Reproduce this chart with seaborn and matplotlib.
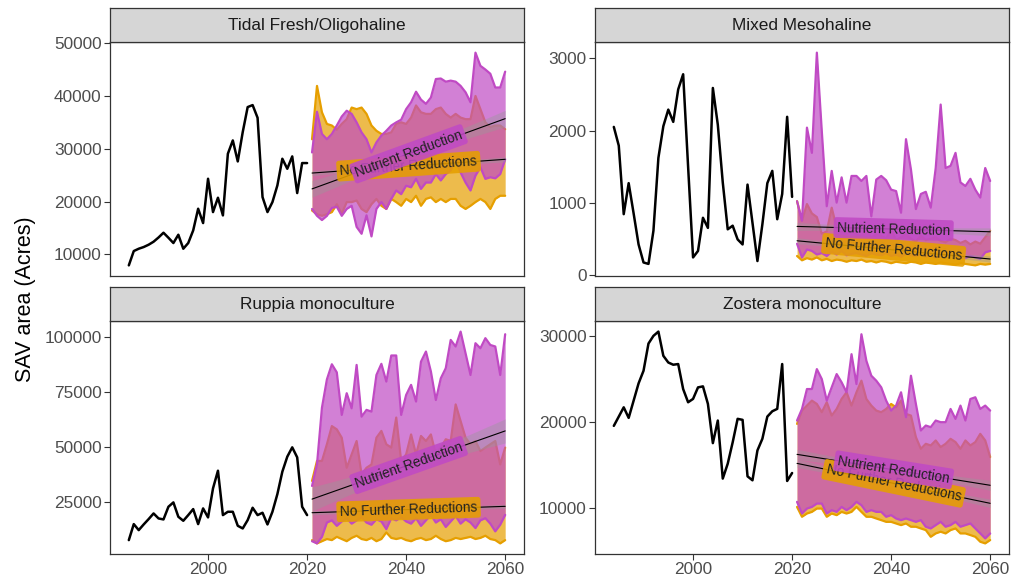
import numpy as np
import pandas as pd
import matplotlib
matplotlib.use("Agg")
import matplotlib.pyplot as plt
import seaborn as sns

# ---------------- data ----------------
years_hist = list(range(1984, 2021))
years_proj = list(range(2021, 2061))

panels = ["Tidal Fresh/Oligohaline", "Mixed Mesohaline",
          "Ruppia monoculture", "Zostera monoculture"]
scenarios = ["No Further Reductions", "Nutrient Reduction"]

# observed SAV area
tf_hist = [7920, 10630, 11070, 11390, 11830, 12400, 13200, 14100, 13150, 12150, 13720, 11070,
           12150, 14540, 18640, 15930, 24320, 18010, 20730, 17380, 29050, 31580, 27600, 33150,
           37890, 38270, 35870, 20850, 18010, 19900, 23060, 28110, 26210, 28550, 21610, 27290, 27290]
mm_hist = [2050, 1790, 840, 1270, 850, 420, 170, 150, 610, 1620, 2060, 2290, 2120, 2570, 2780,
           1500, 240, 330, 790, 650, 2590, 2080, 1280, 630, 680, 490, 420, 1250, 720, 190, 700,
           1270, 1440, 770, 1120, 2190, 1080]
rm_hist = [7500, 14800, 12060, 14650, 17090, 19670, 17390, 16930, 22720, 24700, 18150, 16320,
           18910, 21650, 14800, 21960, 17850, 31090, 39150, 18910, 20430, 20430, 14040, 12820,
           16630, 22260, 18910, 19980, 14650, 20430, 28500, 38700, 45550, 49810, 45240, 22720, 18910]
zm_hist = [19520, 20600, 21680, 20450, 22460, 24470, 25940, 29110, 30000, 30500, 27680, 26900,
           26640, 26720, 23810, 22270, 22660, 24000, 24120, 22080, 17510, 20140, 13380, 15110,
           17600, 20340, 20220, 13640, 13180, 16660, 18020, 20600, 21220, 21500, 26720, 13100, 14030]

# projected ranges, Nutrient Reduction (nr) and No Further Reductions (nfr)
tf_nr_hi = [29300, 37000, 32800, 31800, 32800, 34400, 36100, 37200, 36600, 35000, 33100, 31800,
            29300, 31200, 32500, 33400, 34400, 35000, 35500, 37500, 38800, 40800, 39300, 38500,
            39700, 43200, 43300, 42700, 42900, 42700, 41900, 40700, 38800, 48200, 45700, 45000,
            44200, 41600, 41600, 44600]
tf_nr_lo = [18600, 17300, 16500, 17300, 18800, 19000, 17300, 18600, 19200, 15200, 13900, 17400,
            13400, 18600, 19900, 18600, 20500, 22100, 21400, 23000, 22700, 24300, 22400, 23600,
            23600, 25200, 24000, 25200, 25900, 28000, 25500, 23600, 22100, 24900, 26500, 24300,
            24600, 24400, 25200, 28000]
tf_nfr_hi = [31800, 41900, 36900, 34700, 34400, 33600, 34700, 35600, 37800, 37500, 37800, 36600,
             34400, 33400, 32800, 32800, 33100, 34700, 35000, 34700, 35900, 38200, 36900, 36600,
             36600, 37500, 37800, 36600, 35900, 36600, 35900, 35600, 35600, 40000, 37500, 35000,
             34100, 34400, 34400, 33700]
tf_nfr_lo = [18300, 17600, 17300, 17600, 18000, 19500, 17700, 19900, 19900, 20200, 18600, 18000,
             19500, 20500, 19200, 18600, 20500, 19900, 19200, 20500, 19900, 21100, 19200, 20500,
             20800, 19900, 20500, 19900, 20500, 20500, 19200, 18600, 19200, 19900, 20500, 19900,
             18600, 20500, 21100, 21100]

mm_nr_hi = [1020, 750, 2040, 1690, 3080, 1990, 950, 1440, 1000, 1350, 1000, 1370, 1370, 1300,
            1370, 810, 1320, 1370, 1310, 1180, 1160, 860, 1880, 1460, 910, 1120, 1150, 930, 1480,
            2360, 1480, 1510, 1690, 1280, 1230, 1330, 1180, 1070, 1480, 1300]
mm_nr_lo = [430, 240, 350, 330, 280, 300, 260, 320, 280, 330, 270, 290, 300, 280, 260, 300, 280,
            270, 300, 260, 280, 250, 290, 270, 260, 280, 250, 270, 240, 260, 250, 270, 240, 250,
            230, 260, 240, 220, 310, 330]
mm_nfr_hi = [1020, 750, 980, 850, 800, 570, 600, 930, 650, 600, 580, 620, 560, 540, 600, 520, 560,
             540, 500, 620, 480, 520, 560, 500, 460, 540, 480, 500, 520, 470, 450, 500, 480, 440,
             470, 420, 460, 430, 520, 610]
mm_nfr_lo = [260, 200, 230, 210, 240, 200, 220, 190, 210, 200, 180, 200, 190, 210, 180, 190, 170,
             190, 180, 160, 180, 170, 160, 180, 170, 150, 170, 160, 150, 170, 160, 150, 140, 160,
             150, 140, 130, 150, 140, 150]

rm_nr_hi = [32200, 42100, 67900, 80800, 87700, 84000, 64600, 74500, 67600, 87400, 63800, 66900,
            66100, 82800, 87900, 79800, 91700, 91700, 64600, 73700, 78300, 70700, 88900, 93500,
            84400, 71400, 81300, 85900, 98800, 95800, 102600, 92700, 82800, 97300, 95000, 99600,
            96500, 95800, 82800, 101400]
rm_nr_lo = [7000, 6000, 9000, 15500, 16500, 14000, 16000, 17500, 15000, 16500, 18000, 15500,
            14500, 17000, 16000, 12500, 17500, 16500, 18000, 16000, 15000, 17500, 14000, 16500,
            19000, 15500, 17000, 13500, 16000, 18500, 15000, 17000, 15500, 13000, 16500, 17500,
            15000, 11500, 14500, 19000]
rm_nfr_hi = [34500, 43600, 43600, 51200, 59500, 58000, 54200, 40500, 46600, 52700, 37500, 40500,
             42000, 54200, 57300, 51200, 49700, 63400, 43600, 46600, 55700, 46600, 55000, 52700,
             55700, 46600, 49700, 53500, 52700, 69400, 61800, 54200, 51200, 52700, 48100, 49700,
             51200, 52700, 42000, 49700]
rm_nfr_lo = [7500, 6000, 7000, 8000, 7500, 9000, 8000, 7000, 8500, 9500, 8000, 7500, 8500, 7000,
             8000, 11000, 8500, 8000, 8500, 7500, 7000, 8000, 8500, 7500, 8000, 9500, 8000, 7000,
             7500, 8500, 8000, 8500, 9000, 8000, 8500, 9500, 8000, 7500, 6000, 7500]

zm_nr_hi = [20140, 21490, 23810, 23810, 26130, 24970, 22460, 24010, 25550, 24590, 23430, 27870,
            24390, 30190, 27100, 25360, 24780, 24010, 22460, 21300, 21880, 23430, 20530, 25360,
            22070, 18980, 19560, 19370, 20140, 19950, 19950, 21490, 20330, 21880, 20140, 22650,
            22850, 21490, 21880, 21300]
zm_nr_lo = [10670, 9310, 9890, 10080, 10470, 10470, 9310, 9700, 9500, 10080, 9700, 10080, 10670,
            10280, 9500, 9700, 9500, 9500, 8930, 9120, 8730, 8540, 8730, 8540, 8340, 8540, 7770,
            7570, 7960, 8340, 7770, 7960, 8340, 7770, 7960, 8150, 7570, 6990, 6410, 6990]
zm_nfr_hi = [19750, 21300, 21880, 22460, 22070, 21110, 22270, 20720, 21490, 22650, 23430, 21880,
             23430, 24780, 22650, 21880, 21300, 21110, 21490, 22070, 21680, 22460, 20910, 20720,
             18210, 16850, 17430, 17240, 17820, 17050, 17430, 18010, 17630, 16850, 17820, 17240,
             17630, 18590, 17820, 15890]
zm_nfr_lo = [10080, 8930, 9310, 9500, 9890, 9890, 8930, 9310, 9120, 9500, 9310, 9500, 10080, 9500,
             8930, 8930, 8730, 8540, 8340, 8340, 8150, 7960, 8150, 7770, 7770, 7570, 7380, 6600,
             6990, 7190, 6990, 7380, 7570, 6990, 6990, 6800, 6600, 6020, 5830, 6220]

# linear trend of each scenario (value at 2021, value at 2060) and mid-range standard error
tf_nfr_trend = [25400, 28000]; tf_nr_trend = [22400, 35700]; tf_se = [250, 800]
mm_nfr_trend = [471, 218];     mm_nr_trend = [670, 596];     mm_se = [22, 28]
rm_nfr_trend = [20000, 22900]; rm_nr_trend = [26200, 57300]; rm_se = [500, 2800]
zm_nfr_trend = [15150, 10500]; zm_nr_trend = [16200, 12600]; zm_se = [250, 300]

y_ticks = [[10000, 20000, 30000, 40000, 50000], [0, 1000, 2000, 3000],
           [25000, 50000, 75000, 100000], [10000, 20000, 30000]]
x_ticks = [2000, 2020, 2040, 2060]

hist = [tf_hist, mm_hist, rm_hist, zm_hist]
proj = {
    "No Further Reductions": [(tf_nfr_lo, tf_nfr_hi), (mm_nfr_lo, mm_nfr_hi),
                              (rm_nfr_lo, rm_nfr_hi), (zm_nfr_lo, zm_nfr_hi)],
    "Nutrient Reduction": [(tf_nr_lo, tf_nr_hi), (mm_nr_lo, mm_nr_hi),
                           (rm_nr_lo, rm_nr_hi), (zm_nr_lo, zm_nr_hi)],
}
trends = {
    "No Further Reductions": [tf_nfr_trend, mm_nfr_trend, rm_nfr_trend, zm_nfr_trend],
    "Nutrient Reduction": [tf_nr_trend, mm_nr_trend, rm_nr_trend, zm_nr_trend],
}
ses = [tf_se, mm_se, rm_se, zm_se]

# ---------------- tidy tables ----------------
hist_df = pd.concat([pd.DataFrame({"panel": p, "year": years_hist, "acres": h})
                     for p, h in zip(panels, hist)], ignore_index=True)
rows = []
for s in scenarios:
    for p, (lo, hi) in zip(panels, proj[s]):
        rows.append(pd.DataFrame({"panel": p, "scenario": s, "year": years_proj,
                                  "lo": lo, "hi": hi}))
proj_df = pd.concat(rows, ignore_index=True)

# ---------------- style ----------------
sns.set_theme(style="white")
plt.rcParams['font.family'] = ['Liberation Sans', 'DejaVu Sans']
colors = {"No Further Reductions": "#E69F00", "Nutrient Reduction": "#C04AC4"}
edge = "#333333"

W, H = 1021, 583
fig = plt.figure(figsize=(W / 100, H / 100), dpi=100)
boxes = [(110, 42, 414, 234), (595, 42, 414, 234), (110, 321, 414, 233), (595, 321, 414, 233)]
strip_h = 34

xr = np.array(years_hist + years_proj)
xpad = 0.05 * (xr.max() - xr.min())
xp = np.array(years_proj, dtype=float)

for i, panel in enumerate(panels):
    x0, y0, w, h = boxes[i]
    ax = fig.add_axes([x0 / W, 1 - (y0 + h) / H, w / W, h / H])
    sax = fig.add_axes([x0 / W, 1 - y0 / H, w / W, strip_h / H])

    # strip
    sax.set_facecolor("#D6D6D6")
    sax.set_xticks([]); sax.set_yticks([])
    for sp in sax.spines.values():
        sp.set_color(edge); sp.set_linewidth(0.9)
    sax.text(0.5, 0.48, panel, ha="center", va="center", fontsize=12.4,
             color="#1A1A1A", transform=sax.transAxes)

    # ribbons: orange drawn first, purple layered on top
    pdf = proj_df[proj_df.panel == panel]
    for k, s in enumerate(scenarios):
        d = pdf[pdf.scenario == s]
        z = 2 + 2 * k
        ax.fill_between(d.year, d.lo, d.hi, color=colors[s], alpha=0.7, lw=0, zorder=z)
        sns.lineplot(data=d, x="year", y="lo", color=colors[s], lw=1.6, ax=ax, zorder=z + 1)
        sns.lineplot(data=d, x="year", y="hi", color=colors[s], lw=1.6, ax=ax, zorder=z + 1)

    # observed
    sns.lineplot(data=hist_df[hist_df.panel == panel], x="year", y="acres",
                 color="black", lw=1.8, ax=ax, zorder=6)

    # limits (5% expansion as in ggplot)
    vals = np.concatenate([hist[i]] + [np.r_[lo, hi] for s in scenarios
                                       for lo, hi in [proj[s][i]]])
    ypad = 0.05 * (vals.max() - vals.min())
    ax.set_xlim(xr.min() - xpad, xr.max() + xpad)
    ax.set_ylim(vals.min() - ypad, vals.max() + ypad)

    # trend lines, bands and labels
    xm = xp.mean(); n = len(xp)
    for k, s in enumerate(scenarios):
        a, b = trends[s][i]
        yt = a + (b - a) * (xp - xp[0]) / (xp[-1] - xp[0])
        hw = ses[i][k] * np.sqrt(1 + 12 * (xp - xm) ** 2 / (n ** 2 - 1))
        ax.fill_between(xp, yt - hw, yt + hw, color="#999999", alpha=0.4, lw=0, zorder=7)
        sns.lineplot(x=xp, y=yt, color="black", lw=0.8, ax=ax, zorder=8)
        p0 = ax.transData.transform((xp[0], a))
        p1 = ax.transData.transform((xp[-1], b))
        ang = np.degrees(np.arctan2(p1[1] - p0[1], p1[0] - p0[0]))
        xc = xm
        yc = a + (b - a) * (xc - xp[0]) / (xp[-1] - xp[0])
        ax.text(xc, yc, s, rotation=ang, rotation_mode="anchor", ha="center", va="center",
                fontsize=9.8, color="#222222", zorder=9 + k,
                bbox=dict(boxstyle="round,pad=0.25,rounding_size=0.2",
                          fc=colors[s], ec="none", alpha=0.88))

    # axes cosmetics
    ax.set_xlabel(""); ax.set_ylabel("")
    ax.set_yticks(y_ticks[i])
    ax.set_yticklabels([str(t) for t in y_ticks[i]])
    ax.set_xticks(x_ticks)
    ax.set_xticklabels([str(t) for t in x_ticks])
    ax.tick_params(axis="both", which="both", length=4, width=0.8, color=edge,
                   labelsize=12.4, labelcolor="#4D4D4D", pad=2, left=True, bottom=True)
    if i < 2:
        ax.tick_params(axis="x", bottom=False, labelbottom=False)
    for sp in ax.spines.values():
        sp.set_color(edge); sp.set_linewidth(0.9)
        sp.set_zorder(20)
    ax.grid(False)
    ax.set_facecolor("white")

fig.text(25 / W, 1 - 299 / H, "SAV area (Acres)", rotation=90, ha="center", va="center",
         fontsize=15.5, color="black")

fig.savefig("out.png", dpi=100)
